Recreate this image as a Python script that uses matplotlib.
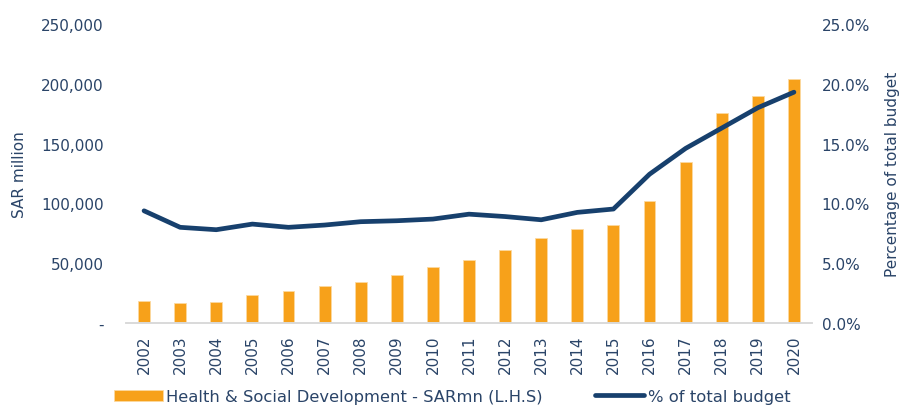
import matplotlib
matplotlib.use("Agg")
import matplotlib.pyplot as plt
from matplotlib.ticker import FuncFormatter

years = [str(y) for y in range(2002, 2021)]
spending = [18800, 16900, 17800, 23300, 26700, 31100, 34400, 40500, 46700, 52500,
            61300, 71100, 78300, 81900, 101900, 134200, 175500, 190000, 204200]
share_pct = [9.38, 8.0, 7.8, 8.27, 8.0, 8.19, 8.47, 8.55, 8.69, 9.1,
             8.9, 8.63, 9.25, 9.53, 12.44, 14.6, 16.3, 18.0, 19.3]

bar_color = "#F7A11A"
line_color = "#17406D"
text_color = "#2A4468"

plt.rcParams['font.family'] = ['DejaVu Sans']
fs = 11

fig = plt.figure(figsize=(9.04, 4.10), dpi=100)
ax = fig.add_axes([126 / 904, 1 - 324 / 410, (812 - 126) / 904, (324 - 25) / 410])
x = range(len(years))
ax.bar(x, spending, width=0.33, color=bar_color, edgecolor="#FCD9A0", linewidth=0.6,
       label="Health & Social Development - SARmn (L.H.S)", zorder=2)
ax.set_xlim(-0.5, len(years) - 0.5)
ax.set_ylim(0, 250000)
ax.set_yticks(range(0, 250001, 50000))
ax.yaxis.set_major_formatter(FuncFormatter(lambda v, p: "-" if v == 0 else f"{int(v):,}"))
ax.set_xticks(list(x))
ax.set_xticklabels(years, rotation=90)

ax2 = ax.twinx()
ax2.plot(x, share_pct, color=line_color, linewidth=3.4, solid_capstyle="round",
         label="% of total budget", zorder=3)
ax2.set_ylim(0, 25)
ax2.set_yticks(range(0, 26, 5))
ax2.yaxis.set_major_formatter(FuncFormatter(lambda v, p: f"{v:.1f}%"))

for a in (ax, ax2):
    for s in ("top", "left", "right"):
        a.spines[s].set_visible(False)
    a.spines["bottom"].set_color("#D9D9D9")
    a.spines["bottom"].set_linewidth(1.2)
    a.tick_params(length=0, labelsize=fs, labelcolor=text_color)

ax.tick_params(axis="y", pad=16)
ax.tick_params(axis="x", pad=8)
ax2.tick_params(axis="y", pad=7)
ax.set_ylabel("SAR million", color=text_color, fontsize=fs, labelpad=10)
ax2.set_ylabel("Percentage of total budget", color=text_color, fontsize=fs, labelpad=11)

h1, l1 = ax.get_legend_handles_labels()
h2, l2 = ax2.get_legend_handles_labels()
fig.legend(h1 + h2, l1 + l2, loc="lower center", bbox_to_anchor=(0.5, -0.024), ncol=2,
           frameon=False, fontsize=11.8, labelcolor=text_color, handlelength=3.0,
           handletextpad=0.2, columnspacing=3.2)

fig.savefig("out.png", dpi=100)
